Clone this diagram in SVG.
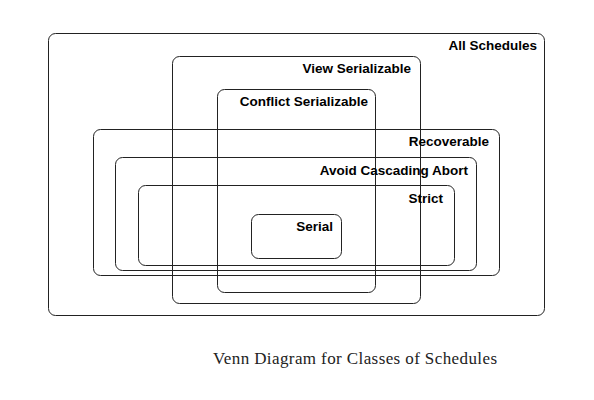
<svg xmlns="http://www.w3.org/2000/svg" width="594" height="400" viewBox="0 0 594 400">
  <style>
    .set rect { fill: none; stroke: #222; stroke-width: 1; }
    .set text { font-family: "Liberation Sans", Arial, sans-serif; font-weight: bold; font-size: 13.5px; fill: #000; text-anchor: end; }
    .caption { font-family: "Liberation Serif", "DejaVu Serif", serif; font-size: 17px; fill: #222; }
  </style>
  <rect width="594" height="400" fill="#fff"/>
  <g id="all-schedules" class="set">
    <rect x="48.5" y="33.5" width="496" height="282" rx="7"/>
    <text x="537" y="50">All Schedules</text>
  </g>
  <g id="view-serializable" class="set">
    <rect x="172.5" y="56.5" width="248" height="247" rx="7"/>
    <text x="411" y="73">View Serializable</text>
  </g>
  <g id="conflict-serializable" class="set">
    <rect x="217.5" y="89.5" width="158" height="203" rx="7"/>
    <text x="368" y="106">Conflict Serializable</text>
  </g>
  <g id="recoverable" class="set">
    <rect x="93.5" y="129.5" width="406" height="146" rx="7"/>
    <text x="489" y="146">Recoverable</text>
  </g>
  <g id="avoid-cascading-abort" class="set">
    <rect x="115.5" y="157.5" width="361" height="113" rx="7"/>
    <text x="468" y="175">Avoid Cascading Abort</text>
  </g>
  <g id="strict" class="set">
    <rect x="138.5" y="185.5" width="316" height="80" rx="7"/>
    <text x="443" y="203">Strict</text>
  </g>
  <g id="serial" class="set">
    <rect x="251.5" y="214.5" width="90" height="44" rx="7"/>
    <text x="333" y="231">Serial</text>
  </g>
  <g id="connectors"/>
  <text class="caption" x="213" y="364" textLength="284" lengthAdjust="spacing">Venn Diagram for Classes of Schedules</text>
</svg>
